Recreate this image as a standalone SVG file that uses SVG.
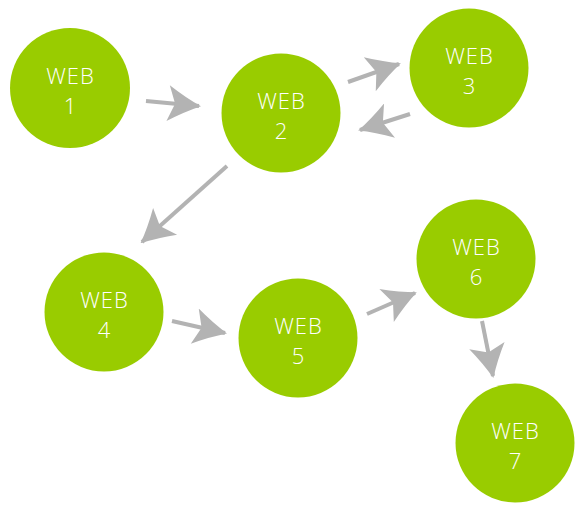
<svg xmlns="http://www.w3.org/2000/svg" width="583" height="513" viewBox="0 0 583 513">
<style>
.n{fill:#99cc00}
.t{fill:#fff;font-family:"Open Sans","Liberation Sans",sans-serif;font-weight:300;font-size:22px;letter-spacing:1px;text-anchor:middle}
.c{stroke:#b3b3b3;stroke-width:4;fill:none;marker-end:url(#ah)}
</style>
<defs>
<marker id="ah" viewBox="0 0 36 36" refX="34" refY="18" markerWidth="36" markerHeight="36" markerUnits="userSpaceOnUse" orient="auto">
<path d="M36,18 Q20,11 3,0 L10,18 L3,36 Q20,25 36,18 Z" fill="#b3b3b3"/>
</marker>
</defs>
<rect width="583" height="513" fill="#fff"/>
<g id="connectors">
<line class="c" x1="146" y1="101" x2="199" y2="106"/>
<line class="c" x1="348" y1="82" x2="399" y2="64"/>
<line class="c" x1="410" y1="114" x2="360" y2="130"/>
<line class="c" x1="227" y1="166" x2="142" y2="242"/>
<line class="c" x1="172" y1="321" x2="225" y2="333"/>
<line class="c" x1="367" y1="314" x2="415" y2="293"/>
<line class="c" x1="482" y1="321" x2="493" y2="376"/>
</g>
<g id="web1"><circle class="n" cx="70" cy="88" r="60"/><text class="t" x="70.5" y="84">WEB</text><text class="t" x="70.5" y="114">1</text></g>
<g id="web2"><circle class="n" cx="281" cy="113" r="59.5"/><text class="t" x="281.5" y="109">WEB</text><text class="t" x="281.5" y="139">2</text></g>
<g id="web3"><circle class="n" cx="469" cy="68" r="59.5"/><text class="t" x="469.5" y="64">WEB</text><text class="t" x="469.5" y="94">3</text></g>
<g id="web4"><circle class="n" cx="104" cy="312" r="59.5"/><text class="t" x="104.5" y="308">WEB</text><text class="t" x="104.5" y="338">4</text></g>
<g id="web5"><circle class="n" cx="298" cy="338" r="59.5"/><text class="t" x="298.5" y="334">WEB</text><text class="t" x="298.5" y="364">5</text></g>
<g id="web6"><circle class="n" cx="476" cy="259" r="59.5"/><text class="t" x="476.5" y="255">WEB</text><text class="t" x="476.5" y="285">6</text></g>
<g id="web7"><circle class="n" cx="515" cy="443" r="59.5"/><text class="t" x="515.5" y="439">WEB</text><text class="t" x="515.5" y="469">7</text></g>
</svg>
